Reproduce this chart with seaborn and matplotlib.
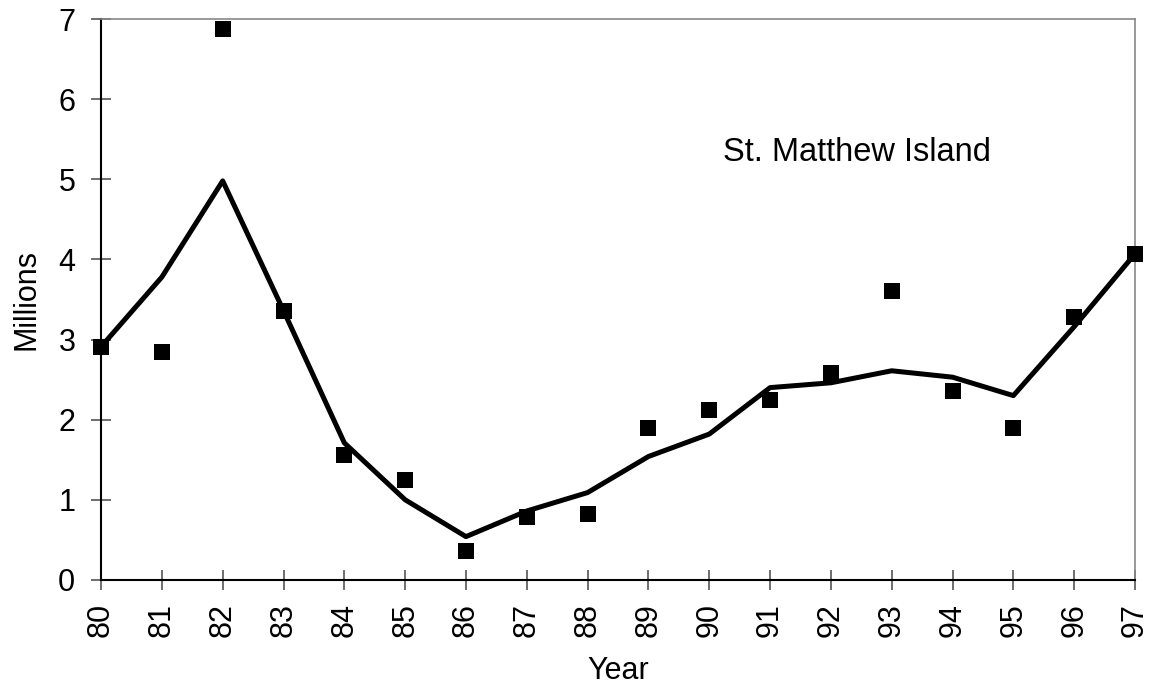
import matplotlib
matplotlib.use("Agg")
import matplotlib.pyplot as plt
import seaborn as sns
import pandas as pd

# data
years = [80, 81, 82, 83, 84, 85, 86, 87, 88, 89, 90, 91, 92, 93, 94, 95, 96, 97]
observed = [2.91, 2.85, 6.88, 3.36, 1.56, 1.25, 0.36, 0.79, 0.82, 1.90,
            2.12, 2.25, 2.58, 3.61, 2.36, 1.90, 3.28, 4.07]
fitted = [2.91, 3.78, 4.98, 3.36, 1.71, 1.00, 0.54, 0.86, 1.09, 1.54,
          1.82, 2.40, 2.46, 2.61, 2.53, 2.30, 3.16, 4.07]
y_ticks = [0, 1, 2, 3, 4, 5, 6, 7]

df = pd.DataFrame({"Year": years, "observed": observed, "fitted": fitted})

sns.set_style("white")
plt.rcParams['font.family'] = ['Liberation Sans', 'DejaVu Sans']
plt.rcParams['text.color'] = 'black'
plt.rcParams['axes.labelcolor'] = 'black'

fig = plt.figure(figsize=(11.51, 6.92), dpi=100)
ax = fig.add_axes([0.0878, 0.162, 0.8983, 0.8105])

sns.lineplot(data=df, x="Year", y="fitted", color="black", linewidth=3.6, ax=ax, clip_on=False)
sns.scatterplot(data=df, x="Year", y="observed", color="black", marker="s", s=135,
                edgecolor="black", linewidth=0, ax=ax, clip_on=False, zorder=3)

ax.set_xlim(80, 97)
ax.set_ylim(0, 7)
ax.set_xticks(years)
ax.set_xticklabels([str(y) for y in years], rotation=90, fontsize=22)
ax.set_yticks(y_ticks)
ax.set_yticklabels([str(t) for t in y_ticks], fontsize=22)
ax.tick_params(axis="both", direction="inout", length=15, width=1.2,
               color="#555555", labelcolor="black", bottom=True, left=True)
ax.tick_params(axis="x", pad=9)
ax.tick_params(axis="y", pad=11)

for side in ["left", "bottom"]:
    ax.spines[side].set_color("black")
    ax.spines[side].set_linewidth(1.5)
for side in ["top", "right"]:
    ax.spines[side].set_color("#888888")
    ax.spines[side].set_linewidth(1.2)

ax.set_xlabel("Year", fontsize=22, labelpad=14)
ax.set_ylabel("Millions", fontsize=22, labelpad=12)
ax.text(90.23, 5.34, "St. Matthew Island", fontsize=23.5, va="center", ha="left")

fig.savefig("out.png", dpi=100)
